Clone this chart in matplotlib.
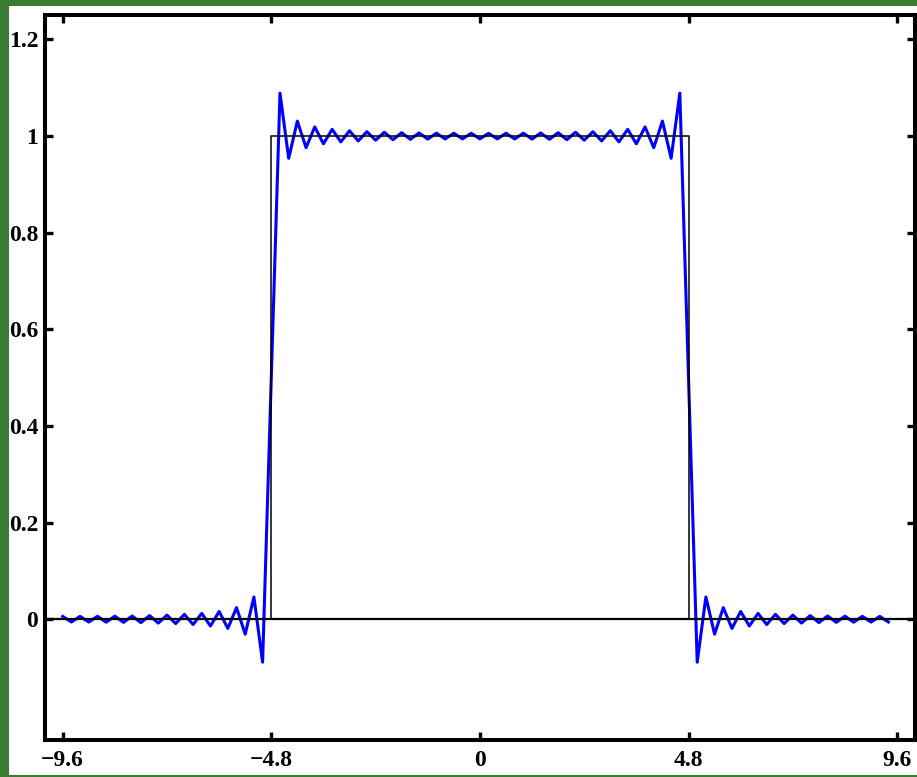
#! /usr/bin/env python3

import matplotlib
matplotlib.use("Agg")
import matplotlib.pyplot as plt
from matplotlib.patches import Rectangle

# Прямоугольный импульс (точная функция)
pulse_x = [-10.0, -4.8, -4.8, 4.8, 4.8, 10.0]
pulse_y = [0.0, 0.0, 1.0, 1.0, 0.0, 0.0]

# Узлы сетки и значения приближённого (усечённого) ряда в узлах
grid_x = [
    -9.6, -9.4, -9.2, -9.0, -8.8, -8.6, -8.4, -8.2, -8.0, -7.8, -7.6, -7.4,
    -7.2, -7.0, -6.8, -6.6, -6.4, -6.2, -6.0, -5.8, -5.6, -5.4, -5.2, -5.0,
    -4.8, -4.6, -4.4, -4.2, -4.0, -3.8, -3.6, -3.4, -3.2, -3.0, -2.8, -2.6,
    -2.4, -2.2, -2.0, -1.8, -1.6, -1.4, -1.2, -1.0, -0.8, -0.6, -0.4, -0.2,
    0.0, 0.2, 0.4, 0.6, 0.8, 1.0, 1.2, 1.4, 1.6, 1.8, 2.0, 2.2,
    2.4, 2.6, 2.8, 3.0, 3.2, 3.4, 3.6, 3.8, 4.0, 4.2, 4.4, 4.6,
    4.8, 5.0, 5.2, 5.4, 5.6, 5.8, 6.0, 6.2, 6.4, 6.6, 6.8, 7.0,
    7.2, 7.4, 7.6, 7.8, 8.0, 8.2, 8.4, 8.6, 8.8, 9.0, 9.2, 9.4,
]
approx_y = [
    0.0058, -0.0058, 0.0059, -0.0059, 0.0060, -0.0061, 0.0063, -0.0065,
    0.0067, -0.0070, 0.0075, -0.0080, 0.0085, -0.0090, 0.0100, -0.0110,
    0.0120, -0.0140, 0.0160, -0.0190, 0.0240, -0.0310, 0.0460, -0.0890,
    0.5,
    1.089, 0.954, 1.031, 0.976, 1.019, 0.984, 1.014, 0.988,
    1.011, 0.990, 1.009, 0.9915, 1.008, 0.9925, 1.007, 0.9933,
    1.0065, 0.9937, 1.0061, 0.9940, 1.0059, 0.9941, 1.0058,
    0.9942,
    1.0058, 0.9941, 1.0059, 0.9940, 1.0061, 0.9937, 1.0065, 0.9933,
    1.007, 0.9925, 1.008, 0.9915, 1.009, 0.990, 1.011, 0.988,
    1.014, 0.984, 1.019, 0.976, 1.031, 0.954, 1.089,
    0.5,
    -0.0890, 0.0460, -0.0310, 0.0240, -0.0190, 0.0160, -0.0140, 0.0120,
    -0.0110, 0.0100, -0.0090, 0.0085, -0.0080, 0.0075, -0.0070, 0.0067,
    -0.0065, 0.0063, -0.0061, 0.0060, -0.0059, 0.0059, -0.0058,
]

x_ticks = [-9.6, -4.8, 0.0, 4.8, 9.6]
x_tick_labels = ["\u22129.6", "\u22124.8", "0", "4.8", "9.6"]
y_ticks = [0.0, 0.2, 0.4, 0.6, 0.8, 1.0, 1.2]
y_tick_labels = ["0", "0.2", "0.4", "0.6", "0.8", "1", "1.2"]

W, H = 917, 777


def main():
    plt.rcParams['font.family'] = ['Liberation Serif', 'DejaVu Serif']
    plt.rcParams['font.weight'] = 'bold'

    fig = plt.figure(figsize=(W / 100, H / 100), dpi=100)
    fig.patch.set_facecolor('#3a7b33')

    # белая подложка внутри зелёной рамки (под осями)
    fig.patches.append(Rectangle((9 / W, 2 / H), (W - 9) / W, (771 - 2) / H,
                                 transform=fig.transFigure, facecolor='white',
                                 edgecolor='none', zorder=-5))

    ax = fig.add_axes([45.3 / W, 1 - 740 / H, (914.5 - 45.3) / W, (740 - 15.3) / H])
    ax.set_facecolor('white')

    ax.plot(grid_x, approx_y, color='#0000ff', lw=2.2, zorder=2)
    # ось абсцисс через весь график
    ax.axhline(0, color='black', lw=1.6, zorder=3)
    ax.plot(pulse_x, pulse_y, color='black', lw=1.1, zorder=3)

    ax.set_xlim(-10, 10)
    ax.set_ylim(-0.25, 1.25)

    ax.set_xticks(x_ticks)
    ax.set_xticklabels(x_tick_labels)
    ax.set_yticks(y_ticks)
    ax.set_yticklabels(y_tick_labels)

    ax.tick_params(direction='in', length=6, width=2.4, top=True, right=True,
                   labelsize=17, colors='black')
    ax.tick_params(axis='x', pad=7)
    ax.tick_params(axis='y', pad=5)
    for lab in ax.get_xticklabels() + ax.get_yticklabels():
        lab.set_fontweight('bold')

    for sp in ax.spines.values():
        sp.set_linewidth(2.9)
        sp.set_color('black')

    fig.savefig('out.png', dpi=100, facecolor=fig.get_facecolor())


if __name__ == '__main__':
    main()
